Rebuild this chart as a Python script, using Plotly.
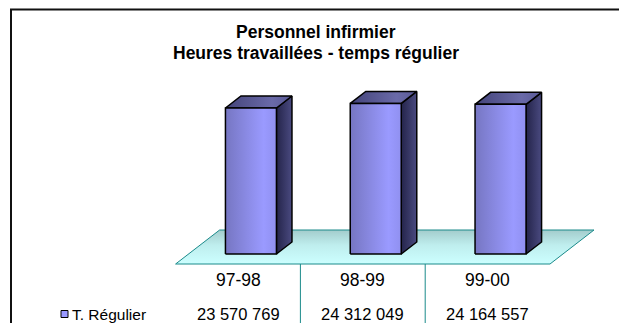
import plotly.graph_objects as go

# ---- data ----
categories = ["97-98", "98-99", "99-00"]
series_name = "T. Régulier"
values = [23570769, 24312049, 24164557]
value_labels = ["23 570 769", "24 312 049", "24 164 557"]
title_lines = ["Personnel infirmier", "Heures travaillées - temps régulier"]

# ---- page / projection geometry (pixels) ----
W, H = 619, 323
col_px = 124.8            # width of one category slot on the floor front edge
x0_px = 238.0             # screen x of the first slot centre (floor front edge)
base_px = 254.0           # screen y of the value-axis zero line (bar front base)
px_per_unit = 146.0 / 23570769.0   # vertical pixels per hour
slope = 44.0 / 34.0       # oblique depth: horizontal px per vertical px

def ux(px):               # horizontal pixels -> category units
    return px / col_px

def uy(px):               # vertical pixels -> hours
    return px / px_per_unit

x_range = [ux(-x0_px), ux(W - x0_px)]
y_range = [uy(base_px - H), uy(base_px)]

floor_front = -10.0       # px below bar base
floor_back = 24.0         # px above bar base
bar_half = ux(25.5)
bar_dx = ux(12 * slope)
bar_dy = uy(12.0)
bar_shift = ux(-floor_front * slope)   # bars sit a little behind the floor front edge

fig = go.Figure()

# floor
fx_l, fx_r = -0.5, len(categories) - 0.5
fb = ux((floor_back - floor_front) * slope)
fig.add_trace(go.Scatter(
    x=[fx_l, fx_r, fx_r + fb, fx_l + fb, fx_l],
    y=[uy(floor_front), uy(floor_front), uy(floor_back), uy(floor_back), uy(floor_front)],
    fill="toself", mode="lines",
    line=dict(color="#1a8a8a", width=1),
    fillgradient=dict(type="vertical",
                      colorscale=[[0, "#ccffff"], [0.55, "#bfeeee"], [1, "#a3cccc"]]),
    hoverinfo="skip", showlegend=False))

# bars: side, top, front faces
for i, v in enumerate(values):
    xl = i + bar_shift - bar_half
    xr = i + bar_shift + bar_half
    side = dict(x=[xr, xr + bar_dx, xr + bar_dx, xr, xr],
                y=[0, bar_dy, v + bar_dy, v, 0])
    top = dict(x=[xl, xr, xr + bar_dx, xl + bar_dx, xl],
               y=[v, v, v + bar_dy, v + bar_dy, v])
    front = dict(x=[xl, xr, xr, xl, xl], y=[0, 0, v, v, 0])
    for face, cs in ((side, [[0, "#24244a"], [1, "#4a4a80"]]),
                     (top, [[0, "#44447a"], [0.7, "#6a6aa8"], [1, "#5a5a96"]]),
                     (front, [[0, "#7676c2"], [0.75, "#9a9aff"], [1, "#9090f0"]])):
        fig.add_trace(go.Scatter(
            x=face["x"], y=face["y"], fill="toself", mode="lines",
            line=dict(color="black", width=1.5),
            fillgradient=dict(type="horizontal", colorscale=cs),
            hoverinfo="skip", showlegend=False))

shapes = []
# data table separators
for i in range(len(categories) - 1):
    shapes.append(dict(type="line", xref="x", yref="y",
                       x0=i + 0.5, x1=i + 0.5, y0=uy(floor_front), y1=uy(base_px - H - 5),
                       line=dict(color="#1a8a8a", width=1)))
# chart frame
shapes.append(dict(type="rect", xref="paper", yref="paper",
                   x0=11 / W, x1=1.05, y0=-0.05, y1=1 - 9.5 / H,
                   line=dict(color="#111111", width=2)))
# legend key
shapes.append(dict(type="rect", xref="paper", yref="paper",
                   x0=61 / W, x1=68 / W, y0=1 - 317.5 / H, y1=1 - 310.5 / H,
                   fillcolor="#9999ff", line=dict(color="black", width=1)))

font_table = dict(family="Liberation Sans, Arial, sans-serif", size=16.5, color="black")
font_cat = dict(family="Liberation Sans, Arial, sans-serif", size=17.5, color="black")
font_key = dict(family="Liberation Sans, Arial, sans-serif", size=15.5, color="black")
annotations = []
for i, (c, lab) in enumerate(zip(categories, value_labels)):
    annotations.append(dict(x=i, y=1 - 280 / H, xref="x", yref="paper", text=c,
                            showarrow=False, font=font_cat, xanchor="center", yanchor="middle"))
    annotations.append(dict(x=i, y=1 - 314 / H, xref="x", yref="paper", text=lab,
                            showarrow=False, font=font_table, xanchor="center", yanchor="middle"))
annotations.append(dict(x=70 / W, y=1 - 314 / H, xref="paper", yref="paper", text=series_name,
                        showarrow=False, font=font_key, xanchor="left", yanchor="middle"))
font_title = dict(family="Liberation Sans, Arial, sans-serif", size=17.5,
                  color="black", weight="bold")
for line, ypx in zip(title_lines, (32, 53)):
    annotations.append(dict(x=316 / W, y=1 - ypx / H, xref="paper", yref="paper",
                            text=line, showarrow=False, font=font_title,
                            xanchor="center", yanchor="middle"))

fig.update_layout(
    width=W, height=H,
    margin=dict(l=0, r=0, t=0, b=0),
    paper_bgcolor="white", plot_bgcolor="white",
    xaxis=dict(range=x_range, visible=False, fixedrange=True),
    yaxis=dict(range=y_range, visible=False, fixedrange=True),
    shapes=shapes, annotations=annotations,
    showlegend=False,
)

fig.write_html("out.html")
